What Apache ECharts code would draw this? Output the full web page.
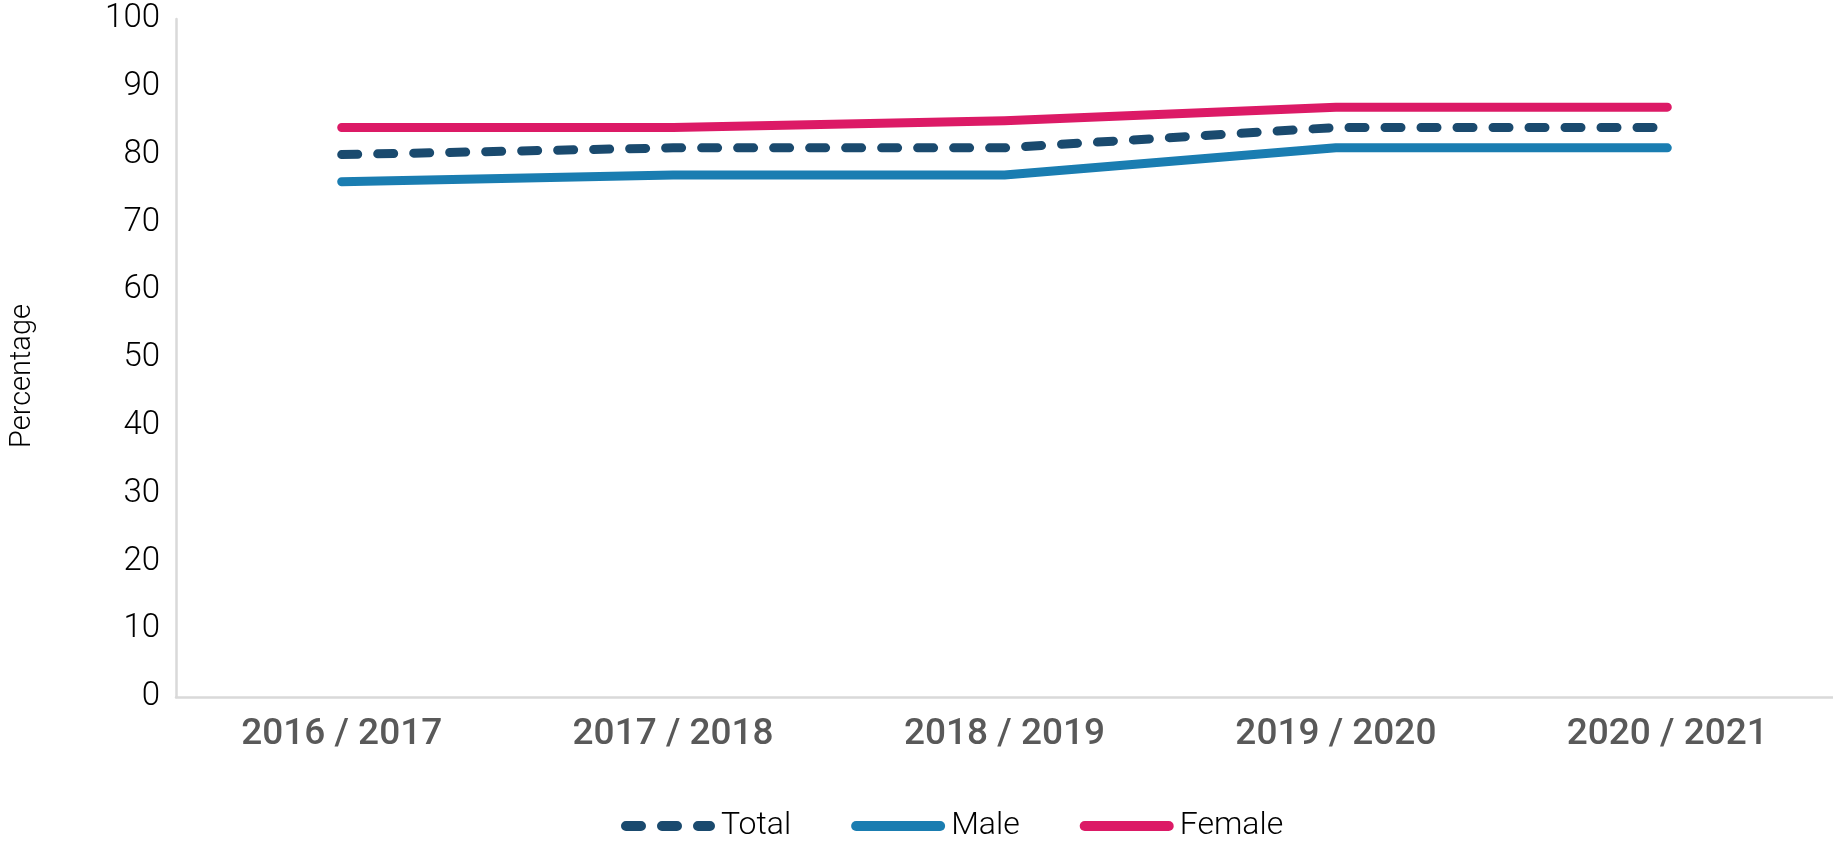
<!DOCTYPE html>
<html>
<head>
<meta charset="utf-8">
<script src="https://cdn.jsdelivr.net/npm/echarts@6/dist/echarts.min.js"></script>
<style>
html,body{margin:0;padding:0;background:#fff;}
#chart{width:1833px;height:844px;}
</style>
</head>
<body>
<div id="chart"></div>
<script>
const categories = ['2016 / 2017', '2017 / 2018', '2018 / 2019', '2019 / 2020', '2020 / 2021'];
const totalValues = [80, 81, 81, 84, 84];
const maleValues = [76, 77, 77, 81, 81];
const femaleValues = [84, 84, 85, 87, 87];
const yTicks = [0, 10, 20, 30, 40, 50, 60, 70, 80, 90, 100];

const chart = echarts.init(document.getElementById('chart'));
chart.setOption({
  animation: false,
  textStyle: { fontFamily: 'Roboto' },
  grid: { left: 165, right: 0, top: 19, bottom: 147, containLabel: false },
  legend: {
    top: 805,
    left: 616,
    itemWidth: 84,
    itemHeight: 14,
    itemGap: 60,
    itemStyle: { opacity: 0 },
    lineStyle: { width: 10, cap: 'round' },
    textStyle: { fontSize: 32, color: '#000', fontFamily: 'Roboto', fontWeight: 300, padding: [0, 0, 0, 6] },
    data: [
      { name: 'Total', lineStyle: { type: [15, 21], width: 10, cap: 'round' } },
      { name: 'Male' },
      { name: 'Female' }
    ]
  },
  xAxis: {
    type: 'category',
    data: categories,
    boundaryGap: true,
    axisLine: { lineStyle: { color: '#d9d9d9', width: 2.5 } },
    axisTick: { show: false },
    axisLabel: { fontSize: 37, color: '#595959', fontWeight: 500, margin: 19, fontFamily: 'Roboto' }
  },
  yAxis: {
    type: 'value',
    min: yTicks[0],
    max: yTicks[yTicks.length - 1],
    interval: 10,
    name: 'Percentage',
    nameLocation: 'middle',
    nameGap: 139,
    nameRotate: 90,
    nameTextStyle: { fontSize: 29, color: '#000', fontWeight: 300, fontFamily: 'Roboto', padding: [0, 36, 0, 0] },
    axisLine: { show: true, lineStyle: { color: '#d9d9d9', width: 2.5 } },
    axisTick: { show: false },
    splitLine: { show: false },
    axisLabel: { fontSize: 33, color: '#000', fontWeight: 300, margin: 16, fontFamily: 'Roboto' }
  },
  series: [
    {
      name: 'Total', type: 'line', data: totalValues,
      symbol: 'none', showSymbol: false, z: 3,
      itemStyle: { color: '#1a4a6e' },
      lineStyle: { color: '#1a4a6e', width: 9, type: [16, 20], cap: 'round', join: 'round' }
    },
    {
      name: 'Male', type: 'line', data: maleValues,
      symbol: 'none', showSymbol: false, z: 2,
      itemStyle: { color: '#1a7db1' },
      lineStyle: { color: '#1a7db1', width: 9, cap: 'round', join: 'round' }
    },
    {
      name: 'Female', type: 'line', data: femaleValues,
      symbol: 'none', showSymbol: false, z: 2,
      itemStyle: { color: '#dc1a66' },
      lineStyle: { color: '#dc1a66', width: 9, cap: 'round', join: 'round' }
    }
  ]
});
</script>
</body>
</html>
